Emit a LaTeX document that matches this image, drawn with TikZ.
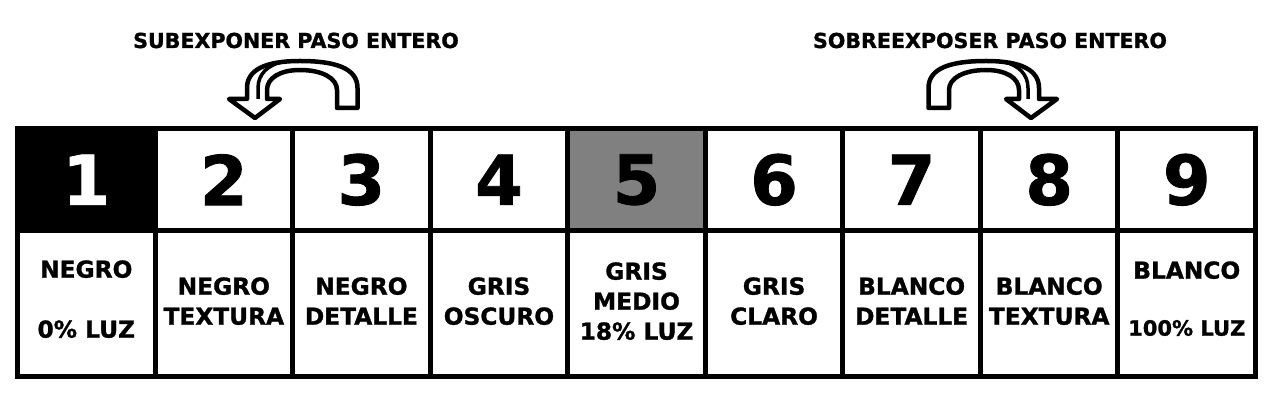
\documentclass[tikz,border=0pt]{standalone}
\usepackage{fontspec}
\setmainfont{DejaVu Sans}[BoldFeatures={FakeBold=1.2}]
\newcommand\lowdepth[1]{\rule[-#1pt]{0pt}{#1pt}}
\begin{document}
\begin{tikzpicture}[x=1pt,y=-1pt,
  cell/.style={draw, line width=5pt, inner sep=0pt, outer sep=0pt,
    minimum width=137.56pt, align=center,
    font=\bfseries\fontsize{23.3}{30}\selectfont},
  numcell/.style={cell, minimum height=101.5pt,
    font=\bfseries\fontsize{68.6}{70}\selectfont},
  labcell/.style={cell, minimum height=146pt},
  headtxt/.style={font=\bfseries\fontsize{20.6}{24}\selectfont, inner sep=0pt},
  arrowline/.style={draw, line width=4.5pt, line join=round, fill=white},
  foldline/.style={draw, line width=3.5pt}]
\useasboundingbox (0,0) rectangle (1280,411);
\fill[white] (0,0) rectangle (1280,411);

% headers
\node[headtxt] (h1) at (296,40.5) {SUBEXPONER PASO ENTERO};
\node[headtxt] (h2) at (990,40.5) {SOBREEXPOSER PASO ENTERO};

% top number cells
\foreach \i in {1,...,9}{
  \pgfmathsetmacro\cx{17.5+137.56*(\i-0.5)}
  \ifnum\i=1
    \node[numcell, fill=black, text=white] (t\i) at (\cx,179.75) {\i};
  \else\ifnum\i=5
    \node[numcell, fill=black!50] (t\i) at (\cx,179.75) {\i};
  \else
    \node[numcell] (t\i) at (\cx,179.75) {\i};
  \fi\fi
}

% bottom label cells
\node[labcell] (b1) at ({17.5+137.56*0.5},303.5) {NEGRO\\[30pt]0\% LUZ\lowdepth{9}};
\node[labcell] (b2) at ({17.5+137.56*1.5},303.5) {NEGRO\\TEXTURA\lowdepth{5}};
\node[labcell] (b3) at ({17.5+137.56*2.5},303.5) {NEGRO\\DETALLE\lowdepth{5}};
\node[labcell] (b4) at ({17.5+137.56*3.5},303.5) {GRIS\\OSCURO\lowdepth{5}};
\node[labcell] (b5) at ({17.5+137.56*4.5},303.5) {GRIS\\MEDIO\\18\% LUZ\lowdepth{5}};
\node[labcell] (b6) at ({17.5+137.56*5.5},303.5) {GRIS\\CLARO\lowdepth{5}};
\node[labcell] (b7) at ({17.5+137.56*6.5},303.5) {BLANCO\\DETALLE\lowdepth{5}};
\node[labcell] (b8) at ({17.5+137.56*7.5},303.5) {BLANCO\\TEXTURA\lowdepth{5}};
\node[labcell] (b9) at ({17.5+137.56*8.5},303.5) {BLANCO\\[27pt]{\fontsize{21}{30}\selectfont 100\% LUZ}\lowdepth{10}};

% curved arrows
\foreach \sh/\sc in {0/1, 1286/-1}{
  \begin{scope}[xshift=\sh pt, xscale=\sc]
    \draw[arrowline] (357.5,108) -- (357.5,88)
      .. controls (357.5,68) and (335,61) .. (300,61)
      .. controls (265,61) and (247,70) .. (247,88)
      -- (247,99) -- (229,99) -- (255,118) -- (280,99) -- (267,99) -- (267,90)
      .. controls (267,78) and (280,70) .. (300,70)
      .. controls (322,70) and (337,78) .. (337,90)
      -- (337,108) -- cycle;
    \draw[foldline] (258,99) -- (258,88)
      .. controls (258,74) and (268,65) .. (282,62);
  \end{scope}
}
\end{tikzpicture}
\end{document}
